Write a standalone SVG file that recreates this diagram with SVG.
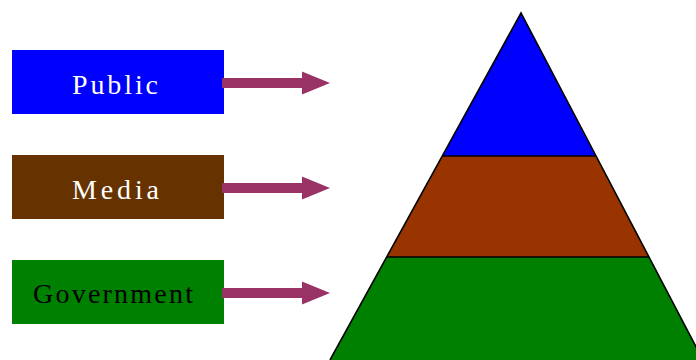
<svg xmlns="http://www.w3.org/2000/svg" width="696" height="360" viewBox="0 0 696 360">
<style>
.lbl{font-family:"Liberation Serif","Times New Roman",serif;font-size:28px}
.arrow{fill:#993366}
.edge{stroke:#000;stroke-width:1.6;fill:none}
</style>
<defs>
<path id="arr" d="M222,-5 H302 V-11.5 L330,0 L302,11.5 V5 H222 Z"/>
</defs>
<rect width="696" height="360" fill="#fff"/>
<g id="pyramid">
<polygon points="521,13 442.5,156 595.5,156" fill="#0000ff"/>
<polygon points="442.5,156 595.5,156 649,257 387,257" fill="#993300"/>
<polygon points="387,257 649,257 703,360 330,360" fill="#008000"/>
<polyline class="edge" points="330,360 521,13 703,360"/>
<line class="edge" x1="442.5" y1="156" x2="595.5" y2="156"/>
<line class="edge" x1="387" y1="257" x2="649" y2="257"/>
</g>
<g id="public">
<rect x="12" y="50" width="212" height="64" fill="#0000ff"/>
<text class="lbl" x="72" y="94" fill="#fff" textLength="86" lengthAdjust="spacing">Public</text>
</g>
<g id="media">
<rect x="12" y="155" width="212" height="64" fill="#663300"/>
<text class="lbl" x="72" y="199" fill="#fff" textLength="87" lengthAdjust="spacing">Media</text>
</g>
<g id="government">
<rect x="12" y="260" width="212" height="64" fill="#008000"/>
<text class="lbl" x="33" y="303" fill="#000" textLength="160" lengthAdjust="spacing">Government</text>
</g>
<g id="connectors">
<use href="#arr" class="arrow" transform="translate(0,83)"/>
<use href="#arr" class="arrow" transform="translate(0,188)"/>
<use href="#arr" class="arrow" transform="translate(0,293)"/>
</g>
</svg>
